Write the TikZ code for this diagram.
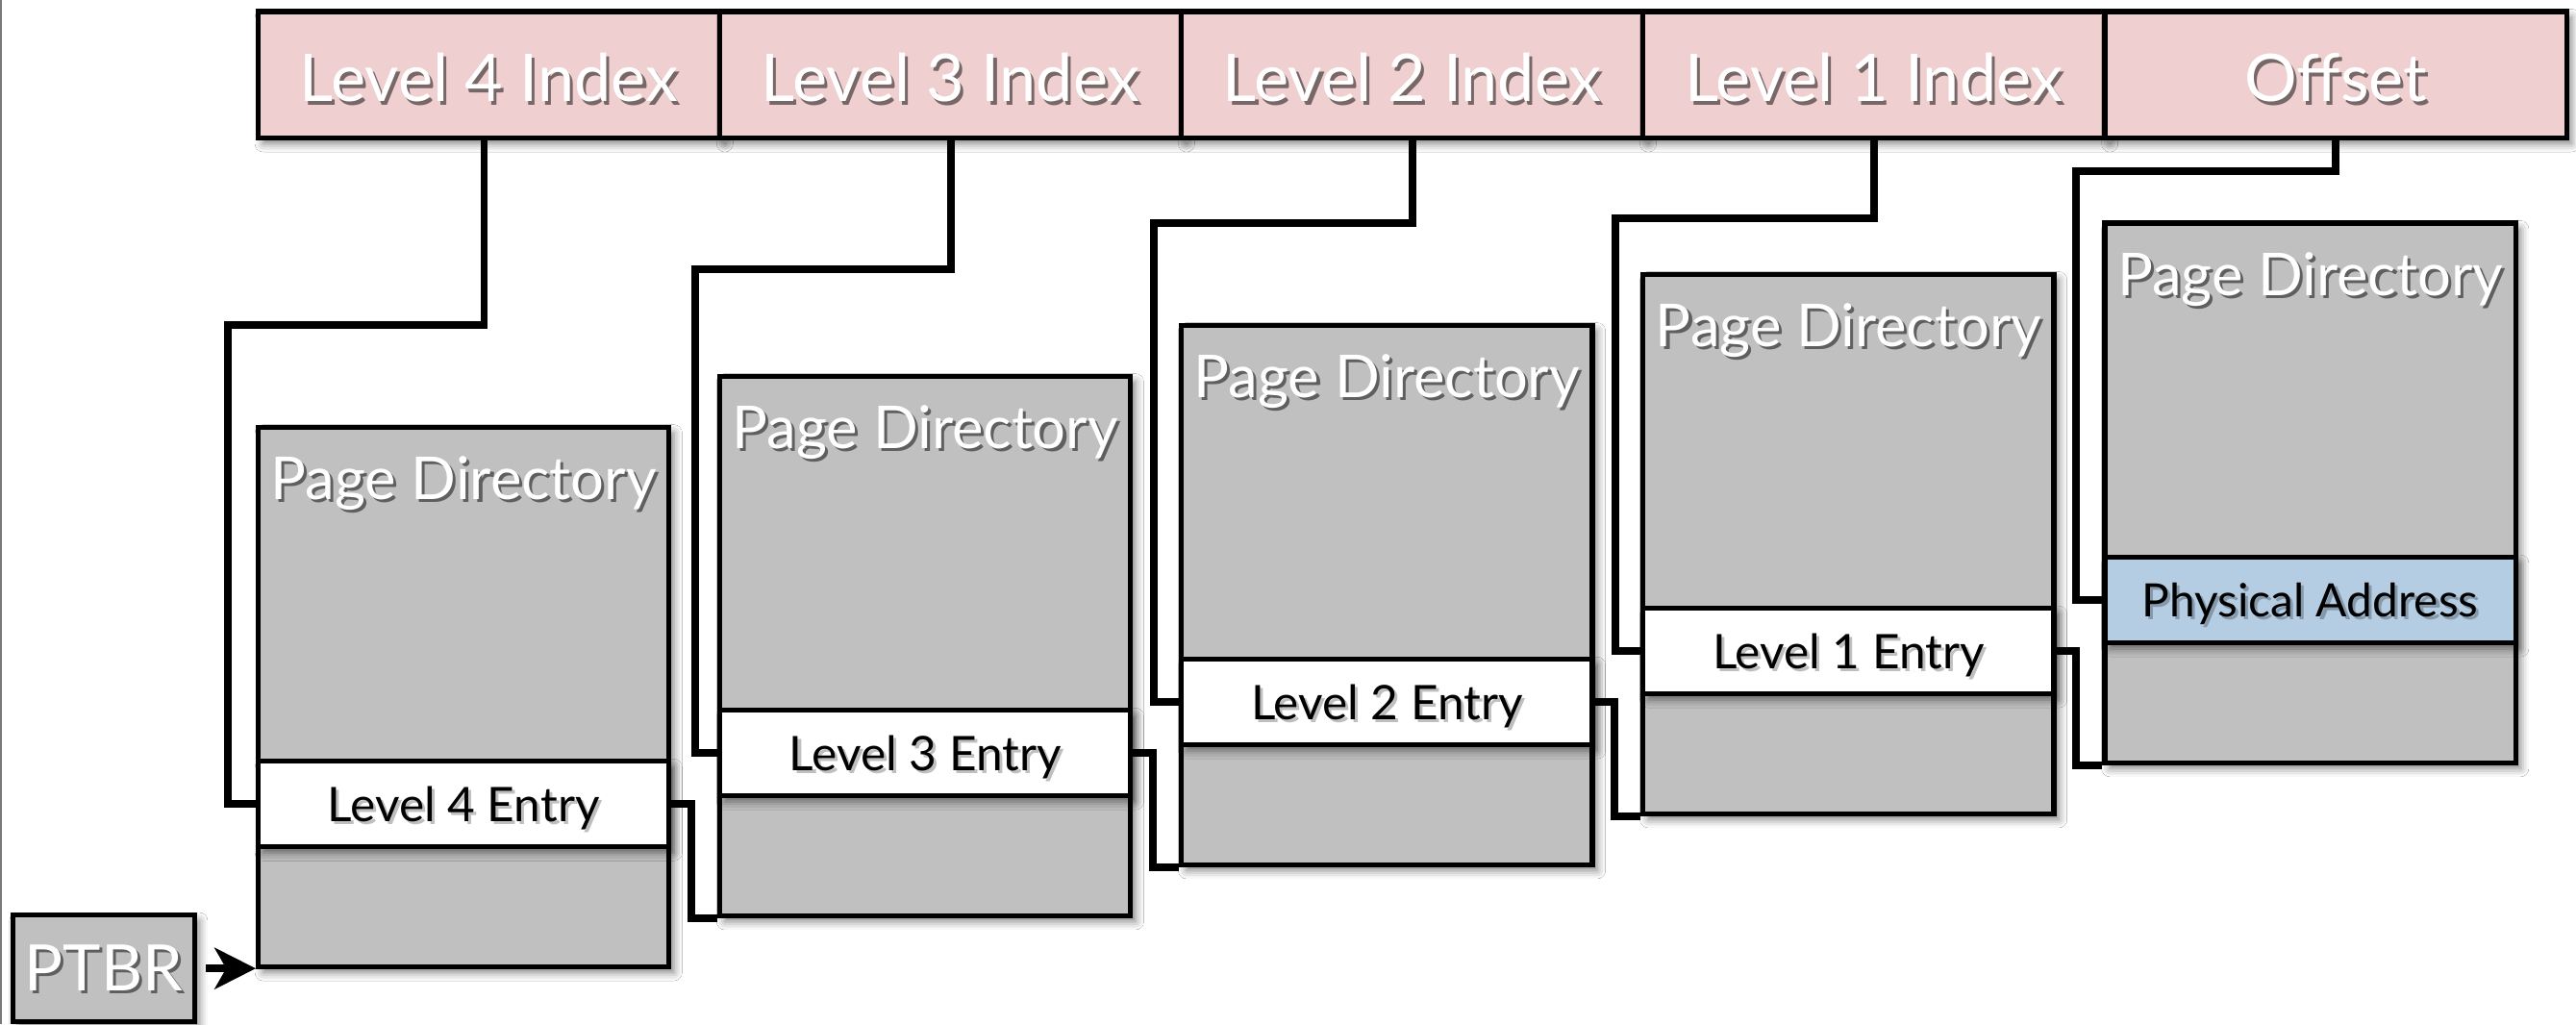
\documentclass[tikz,border=0pt]{standalone}
\usepackage{fontspec}
\setmainfont{Lato}
\usetikzlibrary{shadows.blur,arrows.meta,calc}
\definecolor{idxpink}{RGB}{239,207,207}
\definecolor{dirgray}{RGB}{192,192,192}
\definecolor{pablue}{RGB}{180,205,227}
\definecolor{edgegray}{RGB}{120,120,120}
\tikzset{
  boxshadow/.style={blur shadow={shadow xshift=3pt,shadow yshift=-3.5pt,shadow blur radius=5pt,shadow opacity=50}},
  idxcell/.style={draw=black, line width=3pt, fill=idxpink, minimum width=281pt, minimum height=77pt, inner sep=0pt, boxshadow},
  dirbox/.style={draw=black, line width=3pt, fill=dirgray, minimum width=250pt, minimum height=328.5pt, inner sep=0pt, boxshadow},
  entrybox/.style={draw=black, line width=3pt, fill=white, minimum width=250pt, minimum height=52pt, inner sep=0pt, boxshadow},
  conn/.style={draw=black, line width=4.5pt},
  arr/.style={conn, -{Stealth[length=25pt,width=25pt,inset=7pt]}},
  txt/.style={inner sep=0pt, anchor=base},
  idxtxt/.style={txt, text=white, font=\fontsize{40}{48}\selectfont},
  dirtxt/.style={txt, text=white, font=\fontsize{36}{43}\selectfont},
  enttxt/.style={txt, text=black, font=\fontsize{29}{35}\selectfont},
  patxt/.style={txt, text=black, font=\fontsize{28}{34}\selectfont},
  ptbrtxt/.style={txt, text=white, font=\fontsize{39}{47}\selectfont},
  tsh/.style={text=black, text opacity=0.5},
  tshlight/.style={text=black, text opacity=0.25},
}
\newcommand\mytxt[6]{%
  \node[#2,#6] (#1s) at ([xshift=1.8pt,yshift=-2pt]#3,#4) {#5};
  \node[#2] (#1) at (#3,#4) {#5};}
\begin{document}
\begin{tikzpicture}[x=1pt,y=-1pt]
\useasboundingbox (0,0) rectangle (1568,623.35);
\fill[white] (0,0) rectangle (1568,623.35);
\draw[edgegray, line width=1pt] (0.6,0) -- (0.6,623.35);

% virtual address fields
\node[idxcell] (i4) at (297.7,45.5) {};
\node[idxcell] (i3) at (578.7,45.5) {};
\node[idxcell] (i2) at (859.7,45.5) {};
\node[idxcell] (i1) at (1140.7,45.5) {};
\node[idxcell] (off) at (1421.7,45.5) {};

% page directories
\node[dirbox] (t4) at (282.2,424.25) {};
\node[entrybox] (e4) at (282.2,489.5) {};
\node[dirbox] (t3) at (563.2,393.2) {};
\node[entrybox] (e3) at (563.2,458.45) {};
\node[dirbox] (t2) at (844.2,362.15) {};
\node[entrybox] (e2) at (844.2,427.4) {};
\node[dirbox] (t1) at (1125.2,331.1) {};
\node[entrybox] (e1) at (1125.2,396.35) {};
\node[dirbox] (t0) at (1406.2,300.05) {};
\node[entrybox, fill=pablue] (pa) at (1406.2,365.3) {};

% PTBR
\node[dirbox, minimum width=110.6pt, minimum height=65pt] (ptbr) at (63.1,589.5) {};

% texts
\mytxt{l4}{idxtxt}{297.7}{62}{Level 4 Index}{tsh}
\mytxt{l3}{idxtxt}{578.7}{62}{Level 3 Index}{tsh}
\mytxt{l2}{idxtxt}{859.7}{62}{Level 2 Index}{tsh}
\mytxt{l1}{idxtxt}{1140.7}{62}{Level 1 Index}{tsh}
\mytxt{lo}{idxtxt}{1421.7}{62}{Offset}{tsh}

\mytxt{d4}{dirtxt}{282.2}{304}{Page Directory}{tsh}
\mytxt{d3}{dirtxt}{563.2}{272.95}{Page Directory}{tsh}
\mytxt{d2}{dirtxt}{844.2}{241.9}{Page Directory}{tsh}
\mytxt{d1}{dirtxt}{1125.2}{210.85}{Page Directory}{tsh}
\mytxt{d0}{dirtxt}{1406.2}{179.8}{Page Directory}{tsh}

\mytxt{n4}{enttxt}{282.2}{500}{Level 4 Entry}{tshlight}
\mytxt{n3}{enttxt}{563.2}{468.95}{Level 3 Entry}{tshlight}
\mytxt{n2}{enttxt}{844.2}{437.9}{Level 2 Entry}{tshlight}
\mytxt{n1}{enttxt}{1125.2}{406.85}{Level 1 Entry}{tshlight}
\mytxt{np}{patxt}{1406.2}{375.5}{Physical Address}{tshlight}

\mytxt{pt}{ptbrtxt}{63.1}{603}{PTBR}{tsh}

% index connectors
\coordinate (c4) at (138.7,197.8);
\coordinate (c3) at (423.2,163.9);
\coordinate (c2) at (702.3,135.8);
\coordinate (c1) at (983.3,132.8);
\coordinate (c0) at (1263.6,104.3);
\draw[conn] ([xshift=-3pt]i4.south) |- (c4) |- (e4.west);
\draw[conn] (i3.south) |- (c3) |- (e3.west);
\draw[conn] (i2.south) |- (c2) |- (e2.west);
\draw[conn] (i1.south) |- (c1) |- (e1.west);
\draw[conn] (off.south) |- (c0) |- (pa.west);

% entry to next directory
\draw[conn] (e4.east) -| ([xshift=-16pt]t3.south west) -- (t3.south west);
\draw[conn] (e3.east) -| ([xshift=-16pt]t2.south west) -- (t2.south west);
\draw[conn] (e2.east) -| ([xshift=-16pt]t1.south west) -- (t1.south west);
\draw[conn] (e1.east) -| ([xshift=-16pt]t0.south west) -- (t0.south west);

% PTBR arrow
\draw[arr] ([xshift=5.5pt]ptbr.east) -- (ptbr.east -| t4.west);
\end{tikzpicture}
\end{document}
